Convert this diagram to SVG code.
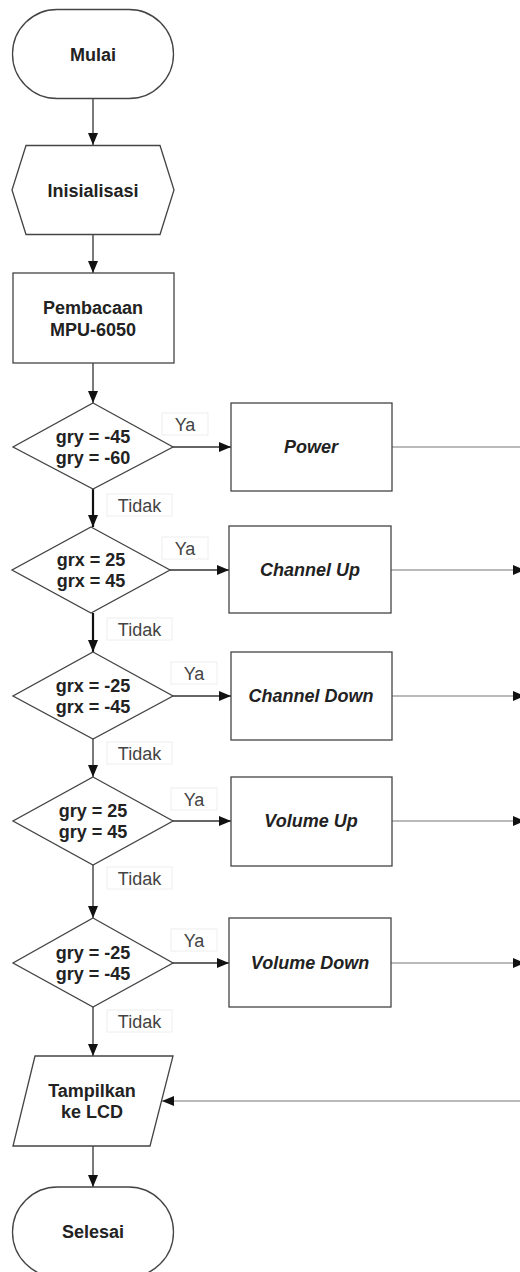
<svg xmlns="http://www.w3.org/2000/svg" width="520" height="1272" viewBox="0 0 520 1272">
<defs>
<marker id="ah" markerUnits="userSpaceOnUse" markerWidth="12" markerHeight="10" viewBox="0 0 12 10" refX="12" refY="5" orient="auto">
<path d="M0,0 L12,5 L0,10 z" fill="#111"/>
</marker>
<style>
.shape{fill:#fff;stroke:#444;stroke-width:1.3}
.t{font-family:"Liberation Sans",Arial,sans-serif;font-size:18px;font-weight:bold;fill:#222;text-anchor:middle}
.ti{font-family:"Liberation Sans",Arial,sans-serif;font-size:18px;font-weight:bold;font-style:italic;fill:#222;text-anchor:middle}
.lbl{font-family:"Liberation Sans",Arial,sans-serif;font-size:18px;fill:#444;text-anchor:middle}
.lb{fill:#fff;stroke:#eee;stroke-width:1}
.c{fill:none;stroke:#333;stroke-width:1.3}
.cb{fill:none;stroke:#111;stroke-width:2.2}
.cr{fill:none;stroke:#777;stroke-width:1.2}
</style>
</defs>
<rect width="520" height="1272" fill="#fff"/>

<g id="connectors">
<line class="c" x1="93" y1="99" x2="93" y2="145" marker-end="url(#ah)"/>
<line class="c" x1="93" y1="234" x2="93" y2="273" marker-end="url(#ah)"/>
<line class="c" x1="93" y1="363" x2="93" y2="403" marker-end="url(#ah)"/>
<line class="cb" x1="93" y1="489" x2="93" y2="527" marker-end="url(#ah)"/>
<line class="cb" x1="93" y1="613" x2="93" y2="652" marker-end="url(#ah)"/>
<line class="c" x1="93" y1="739" x2="93" y2="777" marker-end="url(#ah)"/>
<line class="c" x1="93" y1="865" x2="93" y2="918" marker-end="url(#ah)"/>
<line class="c" x1="93" y1="1007" x2="93" y2="1056" marker-end="url(#ah)"/>
<line class="c" x1="93" y1="1146" x2="93" y2="1187" marker-end="url(#ah)"/>

<line class="c" x1="173" y1="447" x2="231" y2="447" marker-end="url(#ah)"/>
<line class="c" x1="170" y1="570" x2="229" y2="570" marker-end="url(#ah)"/>
<line class="c" x1="173" y1="696" x2="231" y2="696" marker-end="url(#ah)"/>
<line class="c" x1="173" y1="821" x2="231" y2="821" marker-end="url(#ah)"/>
<line class="c" x1="173" y1="963" x2="229" y2="963" marker-end="url(#ah)"/>

<line class="cr" x1="392" y1="447" x2="520" y2="447"/>
<line class="cr" x1="391" y1="570" x2="525" y2="570" marker-end="url(#ah)"/>
<line class="cr" x1="392" y1="696" x2="525" y2="696" marker-end="url(#ah)"/>
<line class="cr" x1="392" y1="821" x2="525" y2="821" marker-end="url(#ah)"/>
<line class="cr" x1="391" y1="963" x2="525" y2="963" marker-end="url(#ah)"/>
<line class="cr" x1="520" y1="1101" x2="162" y2="1101" marker-end="url(#ah)"/>

<g id="labels">
<rect class="lb" x="162" y="413" width="46" height="22"/><text class="lbl" x="185" y="431">Ya</text>
<rect class="lb" x="162" y="537" width="46" height="22"/><text class="lbl" x="185" y="555">Ya</text>
<rect class="lb" x="171" y="662" width="46" height="22"/><text class="lbl" x="194" y="680">Ya</text>
<rect class="lb" x="171" y="788" width="46" height="22"/><text class="lbl" x="194" y="806">Ya</text>
<rect class="lb" x="171" y="929" width="46" height="22"/><text class="lbl" x="194" y="947">Ya</text>
<rect class="lb" x="107" y="494" width="65" height="22"/><text class="lbl" x="139.5" y="512">Tidak</text>
<rect class="lb" x="107" y="618" width="65" height="22"/><text class="lbl" x="139.5" y="636">Tidak</text>
<rect class="lb" x="107" y="742" width="65" height="22"/><text class="lbl" x="139.5" y="760">Tidak</text>
<rect class="lb" x="107" y="867" width="65" height="22"/><text class="lbl" x="139.5" y="885">Tidak</text>
<rect class="lb" x="107" y="1010" width="65" height="22"/><text class="lbl" x="139.5" y="1028">Tidak</text>
</g>
</g>

<g id="mulai">
<rect class="shape" x="12.5" y="9.5" width="161" height="89" rx="44.5" ry="44.5"/>
<text class="t" x="93" y="61">Mulai</text>
</g>

<g id="inisialisasi">
<polygon class="shape" points="26,145.5 160,145.5 174,190 160,234.5 26,234.5 12,190"/>
<text class="t" x="93" y="197">Inisialisasi</text>
</g>

<g id="pembacaan">
<rect class="shape" x="13" y="273" width="161" height="90"/>
<text class="t" x="93" y="314">Pembacaan</text>
<text class="t" x="93" y="336">MPU-6050</text>
</g>

<g id="d1">
<polygon class="shape" points="93,403 173,447 93,489 13,447"/>
<text class="t" x="93" y="443">gry = -45</text>
<text class="t" x="93" y="464">gry = -60</text>
</g>
<g id="d2">
<polygon class="shape" points="91,527 170,570 91,613 12,570"/>
<text class="t" x="91" y="566">grx = 25</text>
<text class="t" x="91" y="587">grx = 45</text>
</g>
<g id="d3">
<polygon class="shape" points="93,652 173,696 93,739 13,696"/>
<text class="t" x="93" y="692">grx = -25</text>
<text class="t" x="93" y="713">grx = -45</text>
</g>
<g id="d4">
<polygon class="shape" points="93,777 173,821 93,865 13,821"/>
<text class="t" x="93" y="817">gry = 25</text>
<text class="t" x="93" y="838">gry = 45</text>
</g>
<g id="d5">
<polygon class="shape" points="93,918 173,963 93,1007 13,963"/>
<text class="t" x="93" y="959">gry = -25</text>
<text class="t" x="93" y="980">gry = -45</text>
</g>

<g id="power">
<rect class="shape" x="231" y="403" width="161" height="88"/>
<text class="ti" x="311" y="453">Power</text>
</g>
<g id="channelup">
<rect class="shape" x="229" y="526" width="162" height="87"/>
<text class="ti" x="310" y="576">Channel Up</text>
</g>
<g id="channeldown">
<rect class="shape" x="231" y="652" width="161" height="88"/>
<text class="ti" x="311" y="702">Channel Down</text>
</g>
<g id="volumeup">
<rect class="shape" x="231" y="777" width="161" height="89"/>
<text class="ti" x="311" y="827">Volume Up</text>
</g>
<g id="volumedown">
<rect class="shape" x="229" y="918" width="162" height="89"/>
<text class="ti" x="310" y="969">Volume Down</text>
</g>

<g id="tampilkan">
<polygon class="shape" points="35,1056 173,1056 150,1146 13,1146"/>
<text class="t" x="92" y="1097">Tampilkan</text>
<text class="t" x="92" y="1118">ke LCD</text>
</g>

<g id="selesai">
<rect class="shape" x="12.5" y="1187" width="161" height="90" rx="45" ry="45"/>
<text class="t" x="93" y="1238">Selesai</text>
</g>
</svg>
